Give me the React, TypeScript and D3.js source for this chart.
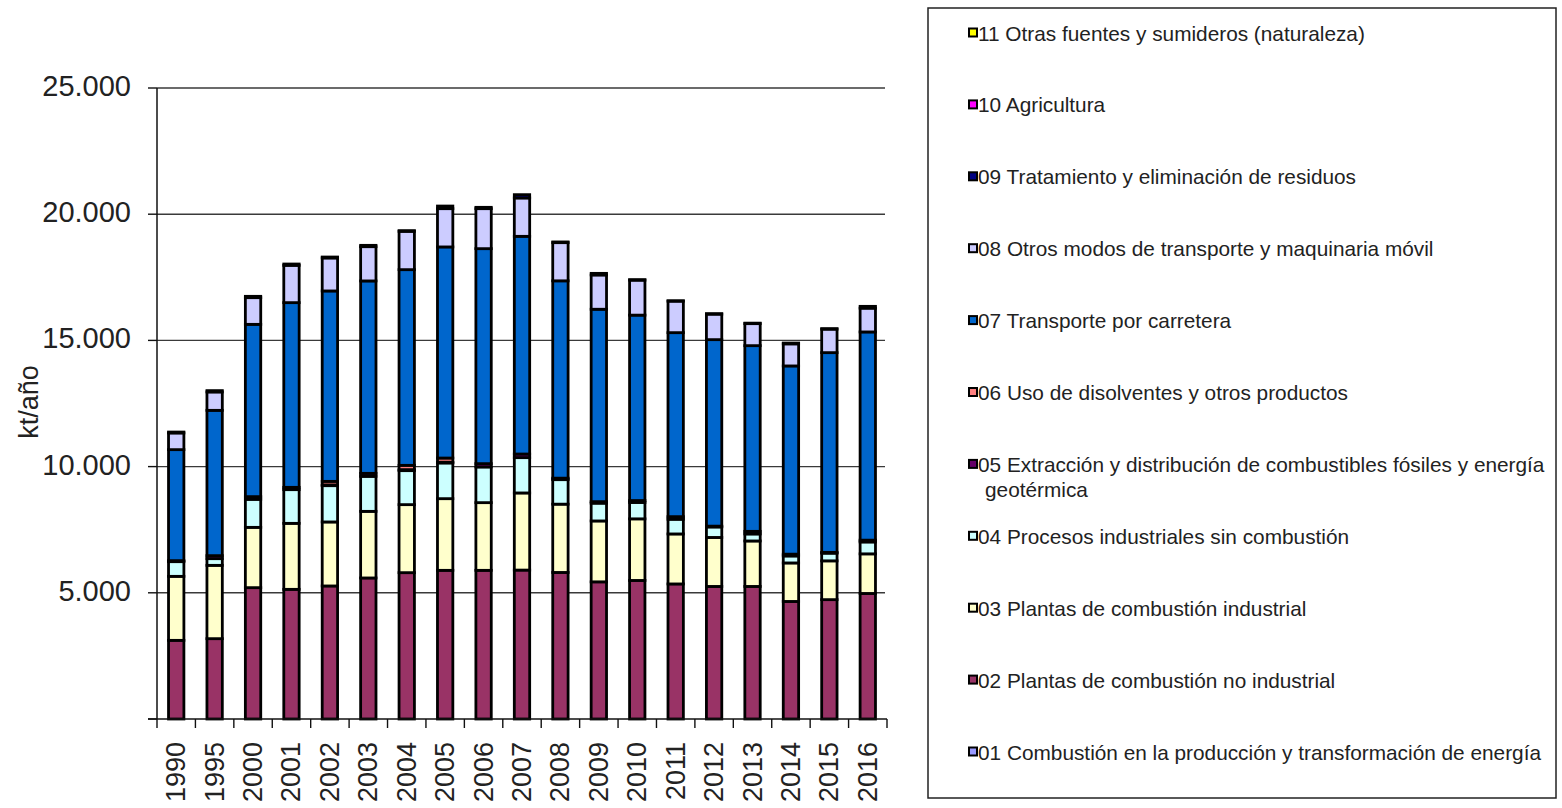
import React from "react";
import * as d3 from "d3";

const years = ["1990","1995","2000","2001","2002","2003","2004","2005","2006","2007","2008","2009","2010","2011","2012","2013","2014","2015","2016"];

const s01 = [0,0,0,0,0,0,0,0,0,0,0,0,0,0,0,0,0,0,0];
const s02 = [3116,3183,5204,5137,5271,5588,5798,5890,5890,5900,5806,5434,5489,5351,5252,5252,4657,4729,4974];
const s03 = [2536,2905,2389,2615,2536,2639,2695,2840,2682,3056,2706,2413,2441,1981,1941,1802,1526,1537,1569];
const s04 = [582,265,1110,1335,1438,1387,1347,1415,1414,1399,971,705,650,582,416,278,277,305,472];
const s05 = [40,119,107,91,30,119,40,30,131,143,59,59,75,103,32,103,71,32,71];
const s06 = [0,0,0,0,140,0,170,164,0,0,0,0,0,0,0,0,0,0,0];
const s07 = [4398,5757,6826,7318,7544,7623,7753,8364,8518,8625,7818,7623,7346,7290,7389,7357,7457,7912,8249];
const s08 = [661,729,1058,1478,1308,1358,1518,1517,1585,1521,1513,1359,1386,1248,1010,872,875,931,943];
const s09 = [36,52,52,52,36,52,28,103,52,130,28,63,20,16,20,20,32,20,71];
const s10 = [0,0,0,0,0,0,0,0,0,0,0,0,0,0,0,0,0,0,0];
const s11 = [0,0,0,0,0,0,0,0,0,0,0,0,0,0,0,0,0,0,0];

const seriesKeys = ["01","02","03","04","05","06","07","08","09","10","11"];
const seriesValues = [s01,s02,s03,s04,s05,s06,s07,s08,s09,s10,s11];
const seriesColors = ["#9999FF","#993366","#FFFFCC","#CCFFFF","#660066","#FF8080","#0066CC","#CCCCFF","#000080","#FF00FF","#FFFF00"];
const legendLabels = [
  ["01 Combustión en la producción y transformación de energía"],
  ["02 Plantas de combustión no industrial"],
  ["03 Plantas de combustión industrial"],
  ["04 Procesos industriales sin combustión"],
  ["05 Extracción y distribución de combustibles fósiles y energía", "geotérmica"],
  ["06 Uso de disolventes y otros productos"],
  ["07 Transporte por carretera"],
  ["08 Otros modos de transporte y maquinaria móvil"],
  ["09 Tratamiento y eliminación de residuos"],
  ["10 Agricultura"],
  ["11 Otras fuentes y sumideros (naturaleza)"],
];
const yTicks = [0, 5000, 10000, 15000, 20000, 25000];
const yLabel = "kt/año";

const W = 1562, H = 808;
const plot = { left: 157, right: 887, top: 88, bottom: 719 };
const FONT = "'Liberation Sans', Arial, sans-serif";

export default function App() {
  const table = years.map((y, i) => {
    const row: any = { year: y };
    seriesKeys.forEach((k, j) => (row[k] = seriesValues[j][i]));
    return row;
  });
  const stacked = d3.stack().keys(seriesKeys)(table as any);

  const x = d3.scaleBand().domain(years).range([plot.left, plot.right]).paddingInner(0.6).paddingOuter(0.3);
  const y = d3.scaleLinear().domain([0, 25000]).range([plot.bottom, plot.top]);
  const fmt = (v: number) => d3.format(",")(v).replace(/,/g, ".");
  const step = x.step();

  const legendRowY = (idx: number) => 33 + idx * 71.9; // idx 0 = top row ("11")

  return (
    <svg width={W} height={H} style={{ position: "absolute", left: 0, top: 0, background: "#fff" }} fontFamily={FONT}>
      {/* gridlines */}
      {yTicks.filter(t => t > 0).map(t => (
        <line key={"g" + t} x1={plot.left} x2={885} y1={y(t)} y2={y(t)} stroke="#3a3a3a" strokeWidth={1.4} />
      ))}
      {/* y ticks */}
      {yTicks.map(t => (
        <line key={"yt" + t} x1={plot.left - 9} x2={plot.left} y1={y(t)} y2={y(t)} stroke="#111" strokeWidth={1.4} />
      ))}
      {yTicks.filter(t => t > 0).map(t => (
        <text key={"yl" + t} x={131} y={y(t) - 2} textAnchor="end" dominantBaseline="central" fontSize={29} fill="#222">{fmt(t)}</text>
      ))}
      <text transform={`translate(38,402) rotate(-90)`} textAnchor="middle" fontSize={27} fill="#222">{yLabel}</text>

      {/* bars */}
      {stacked.map((layer, j) => (
        <g key={layer.key} fill={seriesColors[j]}>
          {layer.map((d, i) => {
            const h = y(d[0]) - y(d[1]);
            if (h <= 0) return null;
            return (
              <rect key={i} x={x(years[i])!} width={x.bandwidth()} y={y(d[1])} height={h}
                stroke="#000" strokeWidth={2.8} />
            );
          })}
        </g>
      ))}

      {/* axes */}
      <line x1={plot.left} x2={plot.left} y1={plot.top} y2={plot.bottom} stroke="#111" strokeWidth={1.5} />
      <line x1={plot.left - 9} x2={plot.right} y1={plot.bottom} y2={plot.bottom} stroke="#111" strokeWidth={1.5} />
      {d3.range(years.length + 1).map(i => (
        <line key={"xt" + i} x1={plot.left + i * step} x2={plot.left + i * step} y1={plot.bottom} y2={plot.bottom + 9} stroke="#111" strokeWidth={1.4} />
      ))}
      {years.map(yr => (
        <text key={"xl" + yr} transform={`translate(${x(yr)! + x.bandwidth() / 2},742) rotate(-90)`} textAnchor="end" dominantBaseline="central" fontSize={27} fill="#222">{yr}</text>
      ))}

      {/* legend */}
      <rect x={928} y={8} width={628} height={790} fill="#fff" stroke="#222" strokeWidth={1.5} />
      {seriesKeys.slice().reverse().map((k, idx) => {
        const j = seriesKeys.indexOf(k);
        const cy = legendRowY(idx);
        const lines = legendLabels[j];
        return (
          <g key={"lg" + k}>
            <rect x={969} y={cy - 4.5} width={8} height={8} fill={seriesColors[j]} stroke="#000" strokeWidth={2} />
            {lines.map((ln, li) => (
              <text key={li} x={li === 0 ? 978 : 985} y={cy + li * 25} dominantBaseline="central" fontSize={20.8} fill="#222">{ln}</text>
            ))}
          </g>
        );
      })}
    </svg>
  );
}
